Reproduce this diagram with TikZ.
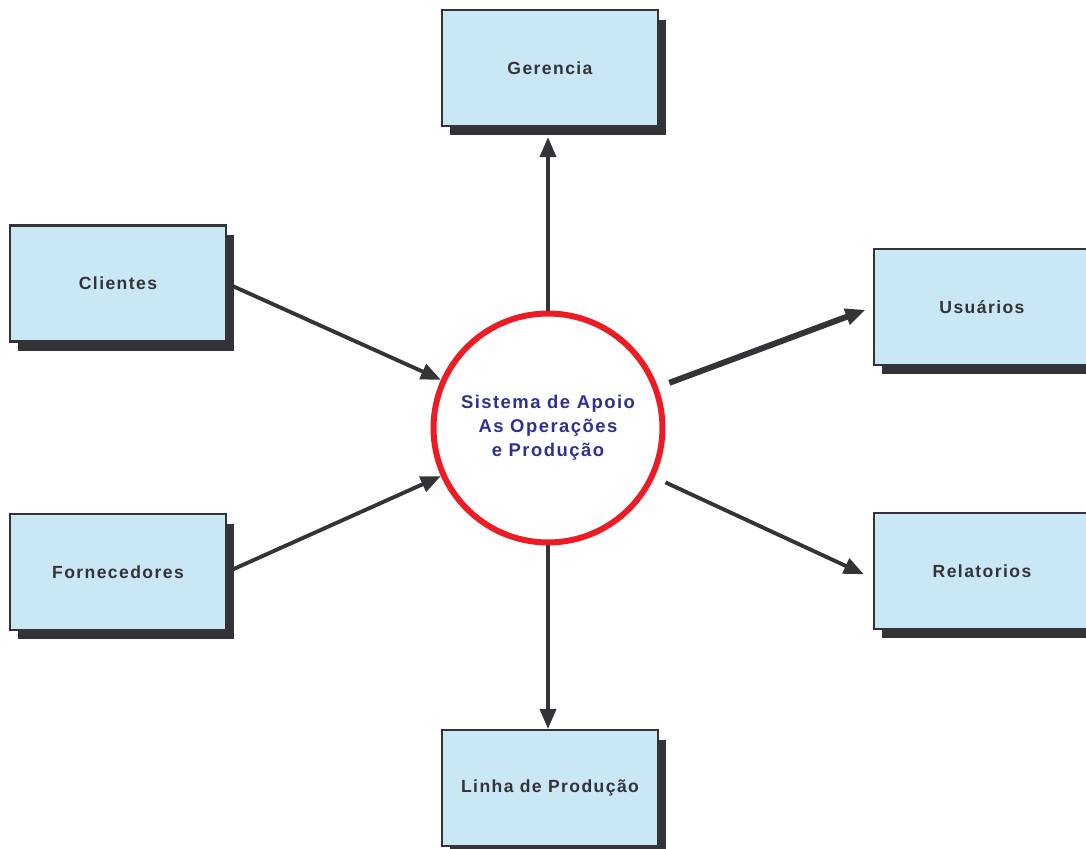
\documentclass[tikz,border=0pt]{standalone}
\usepackage{fontspec}
\setmainfont{Liberation Sans}
\newfontfamily\spacedfont{Liberation Sans}[LetterSpace=8]
\usetikzlibrary{arrows.meta,positioning,shapes,shadows}
\usepackage{xcolor}
\definecolor{boxblue}{HTML}{C9E7F4}
\definecolor{darkline}{HTML}{333338}
\definecolor{circlered}{HTML}{ED1C24}
\definecolor{textblue}{HTML}{2E3192}

\begin{document}
\begin{tikzpicture}[x=0.02cm, y=-0.02cm,
    box/.style={
        rectangle,
        draw=darkline,
        line width=1.2pt,
        fill=boxblue,
        minimum width=4.32cm,
        minimum height=2.32cm,
        text=darkline,
        font=\spacedfont\bfseries\fontsize{10}{12}\selectfont,
        drop shadow={shadow xshift=0.16cm, shadow yshift=-0.19cm,
            fill=darkline, opacity=1}
    },
    flow/.style={
        -{Triangle[length=0.4cm, width=0.32cm]},
        draw=darkline,
        line width=2.2pt
    }]
    \useasboundingbox (0,0) rectangle (1086,849);

    \node (sistema) [circle, draw=circlered, line width=3.4pt, fill=white,
        minimum size=4.58cm, inner sep=0pt, align=center, text=textblue,
        font=\spacedfont\bfseries\fontsize{10.5}{13.6}\selectfont] at (548,428)
    {
        Sistema de Apoio\\As Operações\\e Produção
    };

    \node (gerencia) [box] at (550,68)
    {
        Gerencia
    };
    \node (clientes) [box] at (118,283.5)
    {
        Clientes
    };
    \node (fornecedores) [box] at (118,572)
    {
        Fornecedores
    };
    \node (usuarios) [box] at (982,307)
    {
        Usuários
    };
    \node (relatorios) [box] at (982,571)
    {
        Relatorios
    };
    \node (linha_producao) [box] at (550,788)
    {
        Linha de Produção
    };

    \draw[flow, shorten >=0.2cm] (sistema.north) to (sistema.north |- gerencia.south);
    \draw[flow] (sistema.south) to (sistema.south |- linha_producao.north);
    \draw[flow, shorten <=0.14cm] (clientes.east) to (sistema);
    \draw[flow, shorten <=0.14cm] (fornecedores.east) to (sistema);
    \draw[flow, line width=3.4pt, shorten <=0.24cm, shorten >=0.16cm] (sistema) to (usuarios.west);
    \draw[flow, shorten <=0.24cm, shorten >=0.2cm] (sistema) to ([yshift=-0.15cm]relatorios.west);
\end{tikzpicture}
\end{document}
